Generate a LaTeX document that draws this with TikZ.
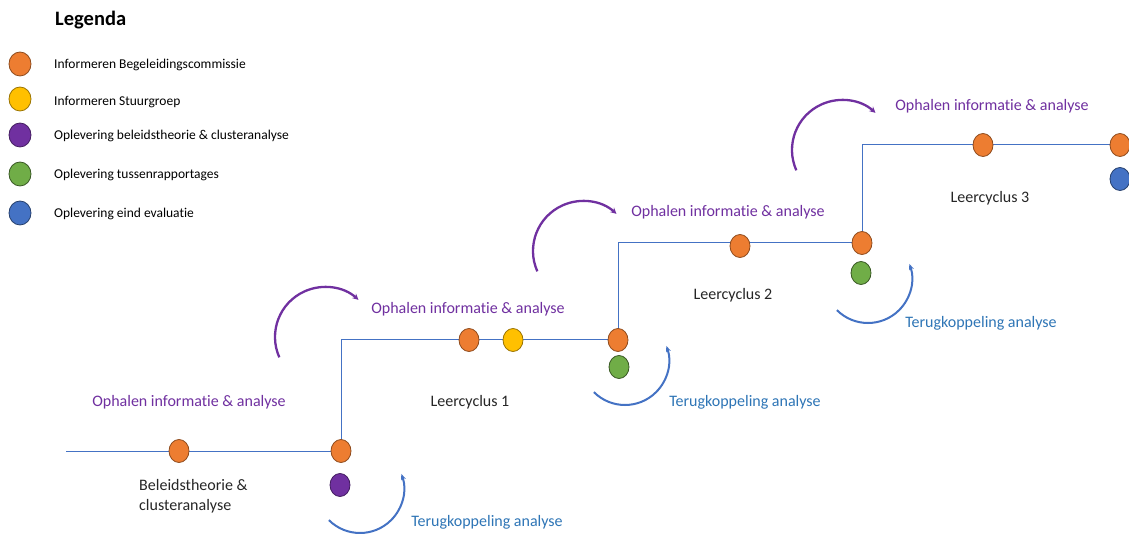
\documentclass[tikz,border=0pt]{standalone}
\usepackage{fontspec}
\setmainfont{Carlito}[Ligatures=NoCommon]
\usetikzlibrary{shapes.geometric,arrows.meta,backgrounds}
\definecolor{orng}{HTML}{ED7D31}
\definecolor{yllw}{HTML}{FFC000}
\definecolor{prpl}{HTML}{7030A0}
\definecolor{grn}{HTML}{70AD47}
\definecolor{blu}{HTML}{4472C4}
\definecolor{tblue}{HTML}{2E75B6}
\definecolor{txt}{HTML}{262626}
\tikzset{
  dot/.style={ellipse, inner sep=0pt, minimum width=20pt, minimum height=23pt, line width=0.8pt},
  ldot/.style={dot, minimum width=22pt, minimum height=24pt},
  od/.style={fill=orng, draw=orng!60!black},
  yd/.style={fill=yllw, draw=yllw!60!black},
  pd/.style={fill=prpl, draw=prpl!60!black},
  gd/.style={fill=grn, draw=grn!50!black},
  bd/.style={fill=blu, draw=blu!55!black},
  flow/.style={draw=blu, line width=1pt},
  lbl/.style={inner sep=0pt, font=\fontsize{16}{20}\selectfont, text=txt},
  oph/.style={lbl, text=prpl},
  ter/.style={lbl, text=tblue},
  legtxt/.style={anchor=west, inner sep=0pt, font=\fontsize{13.5}{16}\selectfont, text=black},
  parc/.style={draw=prpl, line width=2.3pt, -{Stealth[length=6pt,width=6pt]}},
  barc/.style={draw=blu, line width=2pt, -{Stealth[length=6pt,width=5pt]}}
}
\begin{document}
\begin{tikzpicture}[x=1pt,y=-1pt]
\useasboundingbox (0,0) rectangle (1129,534);

% Legend
\node[anchor=west, inner sep=0pt, font=\fontsize{20.5}{24}\selectfont\bfseries] (leg) at (55,20) {Legenda};
\node[ldot, od] (l1) at (20,64) {};
\node[ldot, yd] (l2) at (20,99) {};
\node[ldot, pd] (l3) at (20,135) {};
\node[ldot, gd] (l4) at (20,174) {};
\node[ldot, bd] (l5) at (20,213) {};
\node[legtxt] (t1) at (54,65) {Informeren Begeleidingscommissie};
\node[legtxt] (t2) at (54,102) {Informeren Stuurgroep};
\node[legtxt] (t3) at (54,136) {Oplevering beleidstheorie \& clusteranalyse};
\node[legtxt] (t4) at (54,175) {Oplevering tussenrapportages};
\node[legtxt] (t5) at (54,214) {Oplevering eind evaluatie};

% Timeline nodes
\coordinate (s) at (66,451);
\node[dot, od] (o1) at (179,451) {};
\node[dot, od] (o2) at (341,451) {};
\node[dot, pd] (p1) at (340,485) {};
\node[dot, od] (o3) at (469,340) {};
\node[dot, yd] (y1) at (513,340) {};
\node[dot, od] (o4) at (618,340) {};
\node[dot, gd] (g1) at (619,367) {};
\node[dot, od] (o5) at (740,246) {};
\node[dot, od] (o6) at (862,243) {};
\node[dot, gd] (g2) at (861,273) {};
\node[dot, od] (o7) at (983,145) {};
\node[dot, od] (o8) at (1120,145) {};
\node[dot, bd] (b1) at (1120,179) {};

\begin{scope}[on background layer]
\fill[white] (0,0) rectangle (1129,534);
\path[flow] (s) -- (o2.center) |- (o4.center) |- (o6.center) |- (o8.center);
\end{scope}

% Labels
\node[oph] (ph1) at (189,402) {Ophalen informatie \& analyse};
\node[oph] (ph2) at (468,309) {Ophalen informatie \& analyse};
\node[oph] (ph3) at (728,212) {Ophalen informatie \& analyse};
\node[oph] (ph4) at (992,106) {Ophalen informatie \& analyse};
\node[lbl] (lc1) at (470,402) {Leercyclus 1};
\node[lbl] (lc2) at (733,295) {Leercyclus 2};
\node[lbl] (lc3) at (990,198) {Leercyclus 3};
\node[lbl, anchor=north west, align=left] (bt) at (139,479) {Beleidstheorie \&\\clusteranalyse};
\node[ter] (tk1) at (487,522) {Terugkoppeling analyse};
\node[ter] (tk2) at (745,402) {Terugkoppeling analyse};
\node[ter] (tk3) at (981,323) {Terugkoppeling analyse};

% Purple arcs
\coordinate (pc1) at (325,337);
\coordinate (pc2) at (583,251);
\coordinate (pc3) at (842,150);
\foreach \c in {pc1,pc2,pc3}
  \draw[parc] (\c) ++(204:50pt) arc[start angle=204, end angle=48, radius=50pt];

% Blue arcs
\coordinate (bc1) at (360,489);
\coordinate (bc2) at (625,361);
\coordinate (bc3) at (868,279);
\foreach \c in {bc1,bc2,bc3}
  \draw[barc] (\c) ++(225:44pt) arc[start angle=225, end angle=380, radius=44pt];
\end{tikzpicture}
\end{document}
